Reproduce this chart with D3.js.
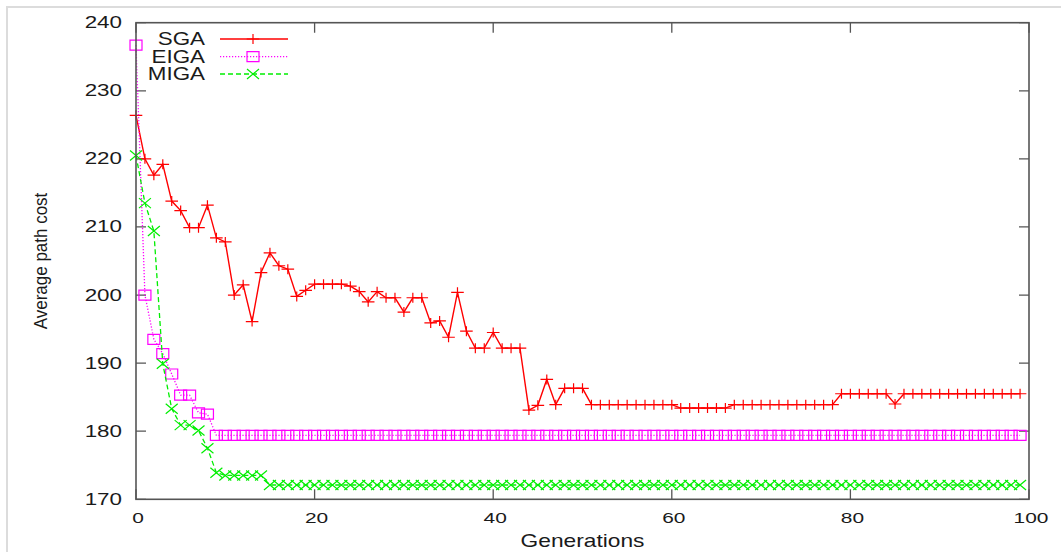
<!DOCTYPE html>
<html>
<head>
<meta charset="utf-8">
<script src="https://cdn.jsdelivr.net/npm/d3@7"></script>
<style>
body { margin: 0; background: #fff; }
text { font-family: "Liberation Sans", Arial, sans-serif; fill: #1a1a1a; }
</style>
</head>
<body>
<div id="chart"></div>
<script>
var width = 1061;
var height = 552;

// generations 0..99
var generations = [0,1,2,3,4,5,6,7,8,9,10,11,12,13,14,15,16,17,18,19,
  20,21,22,23,24,25,26,27,28,29,30,31,32,33,34,35,36,37,38,39,
  40,41,42,43,44,45,46,47,48,49,50,51,52,53,54,55,56,57,58,59,
  60,61,62,63,64,65,66,67,68,69,70,71,72,73,74,75,76,77,78,79,
  80,81,82,83,84,85,86,87,88,89,90,91,92,93,94,95,96,97,98,99];

var sga = [226.4,220.0,217.6,219.2,213.8,212.4,209.9,209.9,213.2,208.4,
  207.8,200.0,201.5,196.1,203.3,206.2,204.3,203.8,199.8,200.7,
  201.6,201.6,201.6,201.6,201.3,200.5,199.0,200.5,199.6,199.6,
  197.5,199.6,199.6,195.9,196.2,193.8,200.4,194.7,192.2,192.2,
  194.5,192.2,192.2,192.2,183.1,183.8,187.6,183.9,186.3,186.3,
  186.3,183.9,183.9,183.9,183.9,183.9,183.9,183.9,183.9,183.9,
  183.9,183.4,183.4,183.4,183.4,183.4,183.4,183.9,183.9,183.9,
  183.9,183.9,183.9,183.9,183.9,183.9,183.9,183.9,183.9,185.5,
  185.5,185.5,185.5,185.5,185.5,184.0,185.5,185.5,185.5,185.5,
  185.5,185.5,185.5,185.5,185.5,185.5,185.5,185.5,185.5,185.5];

var eiga = [236.7,200.0,193.5,191.4,188.4,185.3,185.3,182.7,182.5,179.4,
  179.4,179.4,179.4,179.4,179.4,179.4,179.4,179.4,179.4,179.4,
  179.4,179.4,179.4,179.4,179.4,179.4,179.4,179.4,179.4,179.4,
  179.4,179.4,179.4,179.4,179.4,179.4,179.4,179.4,179.4,179.4,
  179.4,179.4,179.4,179.4,179.4,179.4,179.4,179.4,179.4,179.4,
  179.4,179.4,179.4,179.4,179.4,179.4,179.4,179.4,179.4,179.4,
  179.4,179.4,179.4,179.4,179.4,179.4,179.4,179.4,179.4,179.4,
  179.4,179.4,179.4,179.4,179.4,179.4,179.4,179.4,179.4,179.4,
  179.4,179.4,179.4,179.4,179.4,179.4,179.4,179.4,179.4,179.4,
  179.4,179.4,179.4,179.4,179.4,179.4,179.4,179.4,179.4,179.4];

var miga = [220.5,213.5,209.4,189.9,183.3,180.9,180.9,180.1,177.5,173.9,
  173.5,173.5,173.5,173.5,173.5,172.1,172.1,172.1,172.1,172.1,
  172.1,172.1,172.1,172.1,172.1,172.1,172.1,172.1,172.1,172.1,
  172.1,172.1,172.1,172.1,172.1,172.1,172.1,172.1,172.1,172.1,
  172.1,172.1,172.1,172.1,172.1,172.1,172.1,172.1,172.1,172.1,
  172.1,172.1,172.1,172.1,172.1,172.1,172.1,172.1,172.1,172.1,
  172.1,172.1,172.1,172.1,172.1,172.1,172.1,172.1,172.1,172.1,
  172.1,172.1,172.1,172.1,172.1,172.1,172.1,172.1,172.1,172.1,
  172.1,172.1,172.1,172.1,172.1,172.1,172.1,172.1,172.1,172.1,
  172.1,172.1,172.1,172.1,172.1,172.1,172.1,172.1,172.1,172.1];

var xTicks = [0,20,40,60,80,100];
var yTicks = [170,180,190,200,210,220,230,240];
var seriesNames = ["SGA","EIGA","MIGA"];

function drawChart() {
  var pLeft = 136, pRight = 1029, pTop = 22.7, pBottom = 499.3;

  var svg = d3.select("#chart").append("svg").attr("width", width).attr("height", height);
  svg.append("rect").attr("width", width).attr("height", height).attr("fill", "#fff");

  // faint page edge
  svg.append("path").attr("d", "M7," + height + "V7H" + width)
    .attr("fill", "none").attr("stroke", "#dcdcdc").attr("stroke-width", 2);

  var x = d3.scaleLinear().domain([0,100]).range([pLeft, pRight]);
  var y = d3.scaleLinear().domain([170,240]).range([pBottom, pTop]);

  var frameColor = "#555";

  // ticks (inward, mirrored)
  var tickLen = 10;
  svg.selectAll(".ytk").data(yTicks).enter().append("path")
    .attr("d", function(d){ return "M" + pLeft + "," + y(d) + "h" + tickLen + "M" + pRight + "," + y(d) + "h" + (-tickLen); })
    .attr("stroke", frameColor).attr("stroke-width", 1.3);
  svg.selectAll(".xtk").data(xTicks).enter().append("path")
    .attr("d", function(d){ return "M" + x(d) + "," + pBottom + "v" + (-tickLen) + "M" + x(d) + "," + pTop + "v" + tickLen; })
    .attr("stroke", frameColor).attr("stroke-width", 1.3);

  // tick labels
  svg.selectAll(".ylab").data(yTicks).enter().append("text")
    .attr("transform", function(d){ return "translate(122," + (y(d) + 5.5) + ") scale(1.4,1)"; })
    .attr("text-anchor", "end").attr("font-size", 16)
    .text(function(d){ return d; });
  svg.selectAll(".xlab").data(xTicks).enter().append("text")
    .attr("transform", function(d){ return "translate(" + (x(d) + 2) + ",523) scale(1.35,1)"; })
    .attr("text-anchor", "middle").attr("font-size", 15.5)
    .text(function(d){ return d; });

  // axis titles
  svg.append("text").attr("transform", "translate(582.5,547) scale(1.3,1)")
    .attr("text-anchor", "middle").attr("font-size", 17.5).text("Generations");
  svg.append("text").attr("transform", "translate(47,261) rotate(-90) scale(1,1.1)")
    .attr("text-anchor", "middle").attr("font-size", 17).text("Average path cost");

  // series
  var colors = ["#ff0000", "#ff00ff", "#00ee00"];
  var dashes = [null, "1.2,1.8", "5,3"];
  var widths = [1.4, 1.3, 1.3];
  var allSeries = [sga, eiga, miga];

  var markPlus = "M-6.3,0h12.6M0,-5v10";
  var markBox = "M-6,-5h12v10h-12z";
  var markX = "M-6,-5L6,5M-6,5L6,-5";
  var marks = [markPlus, markBox, markX];

  var line = d3.line()
    .x(function(d, i){ return x(generations[i]); })
    .y(function(d){ return y(d); });

  allSeries.forEach(function(s, k) {
    svg.append("path").datum(s)
      .attr("fill", "none").attr("stroke", colors[k])
      .attr("stroke-width", widths[k]).attr("stroke-dasharray", dashes[k])
      .attr("d", line);
    svg.selectAll(".m" + k).data(s).enter().append("path")
      .attr("transform", function(d, i){ return "translate(" + x(generations[i]) + "," + y(d) + ")"; })
      .attr("d", marks[k]).attr("fill", "none")
      .attr("stroke", colors[k]).attr("stroke-width", 1.2);
  });

  // frame
  svg.append("rect").attr("x", pLeft).attr("y", pTop)
    .attr("width", pRight - pLeft).attr("height", pBottom - pTop)
    .attr("fill", "none").attr("stroke", frameColor).attr("stroke-width", 1.6);

  // legend
  var legY = [39, 56.7, 74];
  seriesNames.forEach(function(name, k) {
    svg.append("text").attr("transform", "translate(205," + (legY[k] + 6.3) + ") scale(1.28,1)")
      .attr("text-anchor", "end").attr("font-size", 17.5).text(name);
    svg.append("line").attr("x1", 220).attr("x2", 288).attr("y1", legY[k]).attr("y2", legY[k])
      .attr("stroke", colors[k]).attr("stroke-width", widths[k]).attr("stroke-dasharray", dashes[k]);
    svg.append("path").attr("transform", "translate(253," + legY[k] + ")")
      .attr("d", marks[k]).attr("fill", "none").attr("stroke", colors[k]).attr("stroke-width", 1.2);
  });
}

drawChart();
</script>
</body>
</html>
